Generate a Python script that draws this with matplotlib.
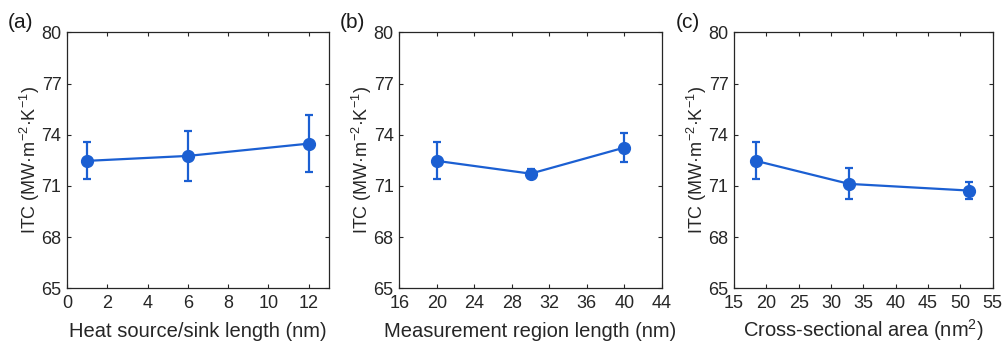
import numpy as np
import matplotlib.pyplot as plt

plt.rcParams['font.family'] = ['Liberation Sans', 'DejaVu Sans']
plt.rcParams['mathtext.fontset'] = 'custom'
plt.rcParams['mathtext.rm'] = 'Liberation Sans'

# (a) heat source/sink length
src_len = [1, 6, 12]
itc_a = [72.47, 72.76, 73.48]
err_a = [1.08, 1.49, 1.67]

# (b) measurement region length
meas_len = [20, 30, 40]
itc_b = [72.47, 71.72, 73.25]
err_b = [1.08, 0.25, 0.83]

# (c) cross-sectional area
area = [18.4, 32.8, 51.3]
itc_c = [72.47, 71.12, 70.73]
err_c = [1.08, 0.91, 0.50]

xlabels = ['Heat source/sink length (nm)', 'Measurement region length (nm)',
           'Cross-sectional area (nm$^2$)']
panel = ['(a)', '(b)', '(c)']
xlims = [(0, 13), (16, 44), (15, 55)]
xticks = [np.arange(0, 13, 2), np.arange(16, 45, 4), np.arange(15, 56, 5)]
yticks = [65, 68, 71, 74, 77, 80]

blue = '#1b5fd2'
ylabel = 'ITC (MW·m$^{-2}$·K$^{-1}$)'
txt = '#262626'

fig = plt.figure(figsize=(10.03, 3.43), dpi=100)
rects = [[0.0668, 0.1595, 0.261, 0.746],
         [0.398, 0.1595, 0.262, 0.746],
         [0.7318, 0.1595, 0.258, 0.746]]
data = [(src_len, itc_a, err_a), (meas_len, itc_b, err_b), (area, itc_c, err_c)]

for i, (x, y, e) in enumerate(data):
    ax = fig.add_axes(rects[i])
    ax.errorbar(x, y, yerr=e, color=blue, lw=1.6, marker='o', ms=8.5,
                capsize=3, capthick=1.6, elinewidth=1.6)
    ax.set_xlim(*xlims[i])
    ax.set_ylim(65, 80)
    ax.set_xticks(xticks[i])
    ax.set_yticks(yticks)
    ax.tick_params(direction='in', top=True, right=True, length=3,
                   labelsize=13, color=txt, labelcolor=txt)
    ax.tick_params(axis='x', pad=5)
    ax.tick_params(axis='y', pad=4)
    for s in ax.spines.values():
        s.set_color(txt)
        s.set_linewidth(0.9)
    ax.set_xlabel(xlabels[i], fontsize=14.5, color=txt, va='baseline')
    ax.xaxis.set_label_coords(0.5, -0.19)
    ax.set_ylabel(ylabel, fontsize=13, color=txt, va='center')
    ax.yaxis.set_label_coords(-0.142, 0.5)
    ax.text(-0.225, 1.04, panel[i], transform=ax.transAxes, fontsize=15,
            ha='left', va='center', color='#1a1a1a')

fig.savefig('out.png', dpi=100)
